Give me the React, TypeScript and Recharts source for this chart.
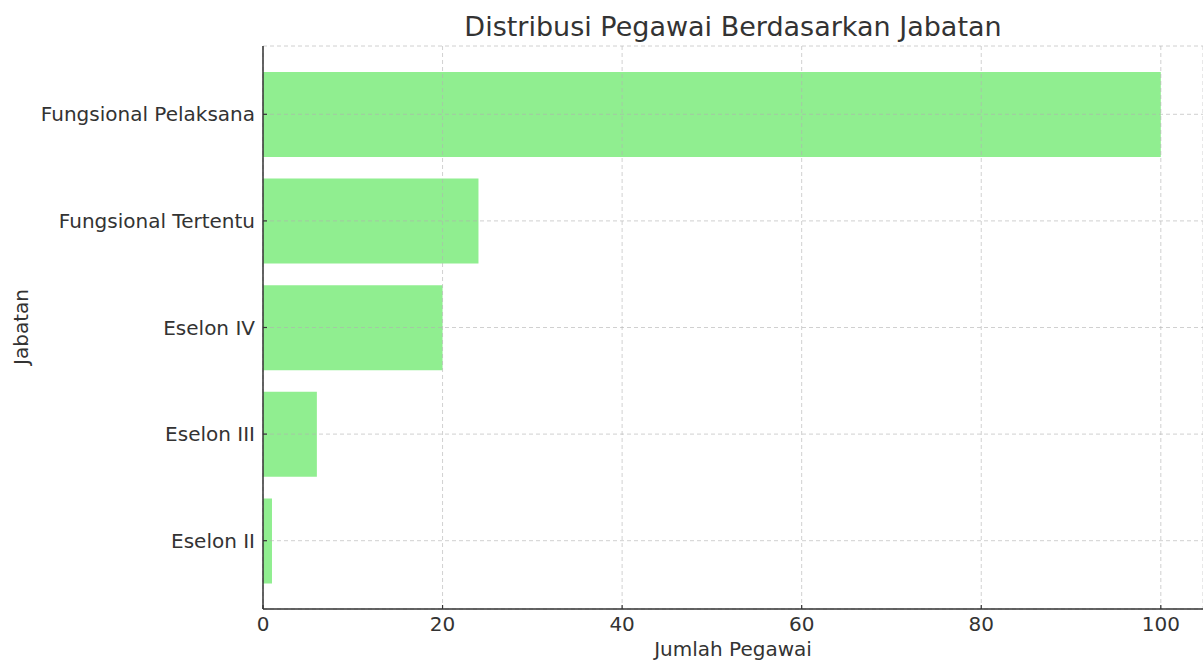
import React from 'react';
import { BarChart, Bar, XAxis, YAxis, CartesianGrid, Label } from 'recharts';

const categories = ['Fungsional Pelaksana', 'Fungsional Tertentu', 'Eselon IV', 'Eselon III', 'Eselon II'];
const counts = [100, 24, 20, 6, 1];
const xTicks = [0, 20, 40, 60, 80, 100];

const data = categories.map((c, i) => ({ name: c, value: counts[i] }));

const FONT = '"DejaVu Sans", sans-serif';
const TEXT = '#333333';

export default function App() {
  return (
    <div style={{ position: 'absolute', left: 0, top: 0, width: 1203, height: 662, fontFamily: FONT, background: '#fff' }}>
      <div
        style={{
          position: 'absolute',
          left: 263,
          width: 940,
          top: 9,
          textAlign: 'center',
          fontSize: 27,
          color: TEXT,
          lineHeight: '36px',
        }}
      >
        Distribusi Pegawai Berdasarkan Jabatan
      </div>
      <BarChart
        layout="vertical"
        width={1203}
        height={662}
        data={data}
        margin={{ top: 46, right: 0, bottom: 0, left: 0 }}
        barSize={85}
        style={{ position: 'absolute', left: 0, top: 0 }}
      >
        <XAxis
          type="number"
          dataKey="value"
          domain={[0, 104.7]}
          ticks={xTicks}
          allowDataOverflow
          height={53}
          tickSize={-4}
          tickMargin={12}
          axisLine={{ stroke: '#333', strokeWidth: 1.5 }}
          tickLine={{ stroke: '#333', strokeWidth: 1.2 }}
          tick={{ fill: TEXT, fontSize: 20, fontFamily: FONT }}
        >
          <Label
            value="Jumlah Pegawai"
            position="insideBottom"
            offset={6}
            style={{ fill: TEXT, fontSize: 20, fontFamily: FONT }}
          />
        </XAxis>
        <YAxis
          type="category"
          dataKey="name"
          width={263}
          padding={{ top: 15, bottom: 15 }}
          tickSize={-4}
          tickMargin={12}
          axisLine={{ stroke: '#333', strokeWidth: 1.5 }}
          tickLine={{ stroke: '#333', strokeWidth: 1.2 }}
          tick={{ fill: TEXT, fontSize: 20, fontFamily: FONT }}
          interval={0}
        >
          <Label
            content={() => (
              <text
                x={28}
                y={327}
                transform="rotate(-90 28 327)"
                textAnchor="middle"
                fill={TEXT}
                fontSize={20}
                fontFamily={FONT}
              >
                Jabatan
              </text>
            )}
          />
        </YAxis>
        <Bar dataKey="value" fill="#90EE90" isAnimationActive={false} />
        <CartesianGrid
          stroke="#b0b0b0"
          strokeOpacity={0.6}
          strokeDasharray="4 3"
          strokeWidth={1}
          zIndex={350}
        />
      </BarChart>
    </div>
  );
}
